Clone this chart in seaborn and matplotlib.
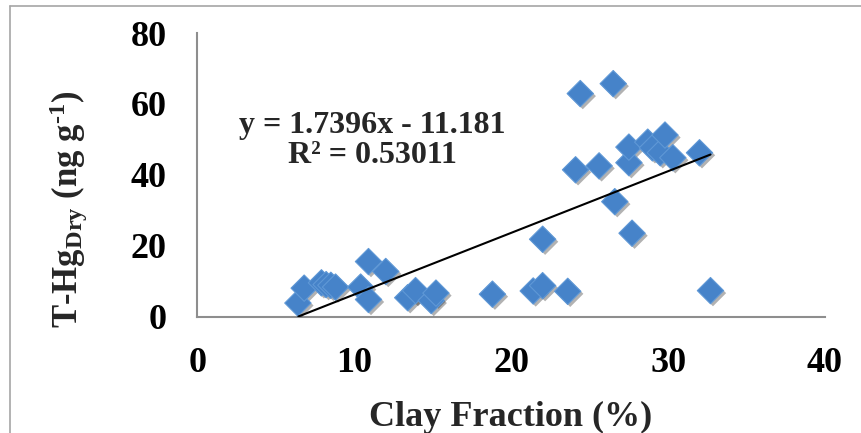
import numpy as np
import pandas as pd
import matplotlib
matplotlib.use("Agg")
import matplotlib.pyplot as plt
import matplotlib.patheffects as pe
from matplotlib.lines import Line2D
import seaborn as sns

# Clay fraction (%) and dry-weight total mercury (ng/g) for each sample
clay_fraction = [6.4, 6.8, 7.9, 8.2, 8.5, 8.8, 10.4, 10.9, 10.9, 12.0,
                 13.4, 13.9, 14.9, 15.2, 18.8, 21.4, 22.0, 23.6, 22.0, 24.1,
                 24.4, 25.6, 26.5, 26.6, 27.5, 27.5, 27.7, 28.7, 29.0, 29.5,
                 29.8, 30.3, 32.0, 32.7]
thg_dry = [3.8, 8.0, 9.5, 9.0, 8.8, 8.3, 8.3, 4.8, 15.5, 12.7,
           5.3, 7.3, 4.5, 6.6, 6.3, 7.2, 8.7, 7.1, 21.8, 41.4,
           62.9, 42.5, 65.7, 32.4, 43.4, 47.8, 23.5, 49.2, 47.6, 46.2,
           51.2, 44.8, 46.2, 7.3]

# Linear trend line coefficients
slope = 1.7396
intercept = -11.181
r_squared = 0.53011

x_ticks = [0, 10, 20, 30, 40]
y_ticks = [0, 20, 40, 60, 80]

df = pd.DataFrame({"clay": clay_fraction, "thg": thg_dry})

sns.set_style("white")
plt.rcParams["font.family"] = ["Liberation Serif", "DejaVu Serif"]
plt.rcParams["font.weight"] = "bold"
plt.rcParams["mathtext.fontset"] = "custom"
plt.rcParams["mathtext.rm"] = "Liberation Serif:bold"
plt.rcParams["mathtext.bf"] = "Liberation Serif:bold"
plt.rcParams["mathtext.it"] = "Liberation Serif:bold"
plt.rcParams["mathtext.default"] = "bf"

W, H = 862, 433
fig = plt.figure(figsize=(W / 100, H / 100), dpi=100)
fig.patch.set_facecolor("white")

def fx(px):
    return px / W

def fy(py):
    return 1 - py / H

ax = fig.add_axes([fx(197.5), fy(316.5), fx(825) - fx(197.5), fy(33) - fy(316.5)])

sns.scatterplot(data=df, x="clay", y="thg", marker="D", s=180,
                color="#4683C9", edgecolor="#5F98D6", linewidth=0.8,
                ax=ax, zorder=3, legend=False)
ax.collections[0].set_path_effects([
    pe.SimplePatchShadow(offset=(1.8, -1.8), shadow_rgbFace="#000000", alpha=0.3),
    pe.Normal(),
])

# Trend line over the sampled clay range
xs = np.array([min(clay_fraction) + 0.03, max(clay_fraction)])
ax.plot(xs, slope * xs + intercept, color="black", lw=1.5, zorder=4)

ax.set_xlim(0, 40)
ax.set_ylim(0, 80)
ax.set_xticks(x_ticks)
ax.set_yticks(y_ticks)
ax.set_xticklabels([str(t) for t in x_ticks])
ax.set_yticklabels([str(t) for t in y_ticks])
ax.set_xlabel("")
ax.set_ylabel("")

axis_grey = "#8E8E8E"
for side in ("top", "right"):
    ax.spines[side].set_visible(False)
for side in ("left", "bottom"):
    ax.spines[side].set_color(axis_grey)
    ax.spines[side].set_linewidth(1.5)
ax.tick_params(axis="both", which="major", direction="out", length=8,
               width=1.5, color=axis_grey, labelsize=26, labelcolor="black")
ax.tick_params(axis="y", pad=14)
ax.tick_params(axis="x", pad=14)
for lab in ax.get_xticklabels() + ax.get_yticklabels():
    lab.set_fontweight("bold")

# Axis titles
fig.text(fx(511), fy(426), "Clay Fraction (%)", ha="center", va="baseline",
         fontsize=26, fontweight="bold")
fig.text(fx(78), fy(328), r"T-Hg$_{\mathbf{Dry}}$ (ng g$^{\text{-1}}$)",
         rotation=90, rotation_mode="anchor", ha="left", va="baseline",
         fontsize=25, fontweight="bold")

# Fit equation
fig.text(fx(372), fy(133), f"y = {slope}x - {abs(intercept)}", ha="center",
         va="baseline", fontsize=23, fontweight="bold")
fig.text(fx(372), fy(163), f"R² = {r_squared}", ha="center",
         va="baseline", fontsize=23, fontweight="bold")

# Outer chart frame
frame_grey = "#A6A6A6"
fig.add_artist(Line2D([fx(10), 1.0], [fy(6), fy(6)], color=frame_grey, lw=1.2))
fig.add_artist(Line2D([fx(10), fx(10)], [fy(6), 0.0], color=frame_grey, lw=1.2))

fig.savefig("out.png", dpi=100, facecolor="white")
